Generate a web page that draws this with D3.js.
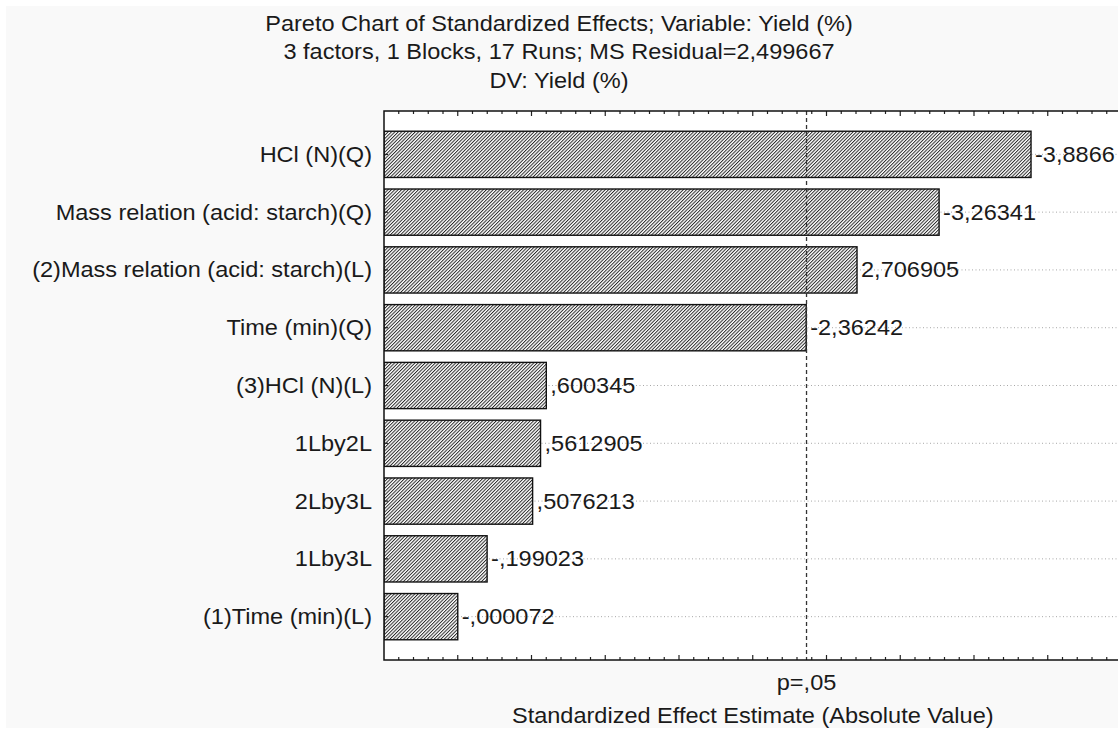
<!DOCTYPE html>
<html>
<head>
<meta charset="utf-8">
<script src="https://cdn.jsdelivr.net/npm/d3@7/dist/d3.min.js"></script>
<style>
  html, body { margin: 0; padding: 0; background: #ffffff; }
  svg { display: block; }
  text { font-family: "Liberation Sans", Arial, sans-serif; fill: #1a1a1a; }
</style>
</head>
<body>
<svg id="chart" width="1118" height="729"></svg>
<script>
// Effects, ordered by absolute standardized value
const effects = [
  "HCl (N)(Q)",
  "Mass relation (acid: starch)(Q)",
  "(2)Mass relation (acid: starch)(L)",
  "Time (min)(Q)",
  "(3)HCl (N)(L)",
  "1Lby2L",
  "2Lby3L",
  "1Lby3L",
  "(1)Time (min)(L)"
];
const estimates = [-3.8866, -3.26341, 2.706905, -2.36242, 0.600345, 0.5612905, 0.5076213, -0.199023, -0.000072];
const pCritical = 2.3646;   // t(0.975; df = 7)
const titleLines = [
  "Pareto Chart of Standardized Effects; Variable: Yield (%)",
  "3 factors, 1 Blocks, 17 Runs; MS Residual=2,499667",
  "DV: Yield (%)"
];
const xTitle = "Standardized Effect Estimate (Absolute Value)";
const pLabel = "p=,05";

const W = 1118, H = 729;
const plot = { left: 384, top: 111, bottom: 660, right: 1121.5 };
const FS = 22, SX = 1.07;

const svg = d3.select("#chart");

// page background
svg.append("rect").attr("x", 6).attr("y", 6).attr("width", W - 6).attr("height", H - 7)
  .attr("fill", "#f9f9f9");

// hatch fill for the bars
const defs = svg.append("defs");
const pat = defs.append("pattern").attr("id", "hatch")
  .attr("patternUnits", "userSpaceOnUse").attr("width", 2.4).attr("height", 6)
  .attr("patternTransform", "rotate(45)");
pat.append("rect").attr("width", 2.4).attr("height", 6).attr("fill", "#ffffff");
pat.append("line").attr("x1", 0.5).attr("y1", 0).attr("x2", 0.5).attr("y2", 6)
  .attr("stroke", "#222").attr("stroke-width", 0.95);

defs.append("clipPath").attr("id", "plotClip").append("rect")
  .attr("x", plot.left).attr("y", plot.top)
  .attr("width", plot.right - plot.left).attr("height", plot.bottom - plot.top);

const x = d3.scaleLinear().domain([-0.5, 4.5]).range([plot.left, plot.right]);
const y = d3.scaleBand().domain(effects).range([plot.top, plot.bottom])
  .paddingInner(0.2).paddingOuter(0.35);
const yPos = d3.scaleLinear().domain([0.25, 9.75]).range([plot.top, plot.bottom]);

const fmt = v => String(v).replace(/^(-?)0\./, "$1.").replace(".", ",");

function txt(g, str, tx, ty, anchor) {
  return g.append("text")
    .attr("transform", `translate(${tx},${ty}) scale(${SX},1)`)
    .attr("text-anchor", anchor || "start")
    .attr("font-size", FS)
    .text(str);
}

// titles
titleLines.forEach((t, i) => txt(svg, t, W / 2, 31 + i * 28.3, "middle"));

// plot area
svg.append("rect").attr("x", plot.left).attr("y", plot.top)
  .attr("width", plot.right - plot.left).attr("height", plot.bottom - plot.top)
  .attr("fill", "#ffffff");

const inner = svg.append("g").attr("clip-path", "url(#plotClip)");

// horizontal dotted grid at each effect
inner.selectAll("line.grid").data(effects).join("line")
  .attr("class", "grid")
  .attr("x1", plot.left).attr("x2", plot.right)
  .attr("y1", d => y(d) + y.bandwidth() / 2).attr("y2", d => y(d) + y.bandwidth() / 2)
  .attr("stroke", "#a8a8a8").attr("stroke-width", 1).attr("stroke-dasharray", "1,2.5");

// bars
inner.selectAll("rect.bar").data(estimates).join("rect")
  .attr("class", "bar")
  .attr("x", x(-0.5))
  .attr("y", (d, i) => y(effects[i]))
  .attr("width", d => x(Math.abs(d)) - x(-0.5))
  .attr("height", y.bandwidth())
  .attr("fill", "url(#hatch)")
  .attr("stroke", "#111").attr("stroke-width", 1.4);

// significance line
inner.append("line")
  .attr("x1", x(pCritical)).attr("x2", x(pCritical))
  .attr("y1", plot.top).attr("y2", plot.bottom)
  .attr("stroke", "#333").attr("stroke-width", 1.3).attr("stroke-dasharray", "4,3");

// value labels
estimates.forEach((v, i) => {
  txt(inner, fmt(v), x(Math.abs(v)) + 4, y(effects[i]) + y.bandwidth() / 2 + 7.5, "start");
});

// axis ticks (inward)
const minor = d3.range(-4, 46).map(k => k / 10);
const tickG = svg.append("g").attr("clip-path", "url(#plotClip)")
  .attr("stroke", "#222").attr("stroke-width", 1.2);
minor.forEach(t => {
  const isMajor = Math.abs(Math.round(t * 2) - t * 2) < 1e-9;
  const len = isMajor ? 5 : 3;
  tickG.append("line").attr("x1", x(t)).attr("x2", x(t))
    .attr("y1", plot.top).attr("y2", plot.top + len);
  tickG.append("line").attr("x1", x(t)).attr("x2", x(t))
    .attr("y1", plot.bottom).attr("y2", plot.bottom - len);
});
yPos.ticks(40).filter(t => t > 0.25 && t < 9.75 && Math.abs(t * 4 - Math.round(t * 4)) < 1e-9)
  .forEach(t => {
    tickG.append("line").attr("x1", plot.left).attr("x2", plot.left + 4)
      .attr("y1", yPos(t)).attr("y2", yPos(t));
  });

// frame
svg.append("rect").attr("x", plot.left).attr("y", plot.top)
  .attr("width", plot.right - plot.left).attr("height", plot.bottom - plot.top)
  .attr("fill", "none").attr("stroke", "#111").attr("stroke-width", 1.5);

// category labels
effects.forEach(e => {
  txt(svg, e, plot.left - 12, y(e) + y.bandwidth() / 2 + 7.5, "end");
});

// axis annotations
txt(svg, pLabel, x(pCritical), 690, "middle");
txt(svg, xTitle, (plot.left + plot.right) / 2, 723, "middle");
</script>
</body>
</html>
